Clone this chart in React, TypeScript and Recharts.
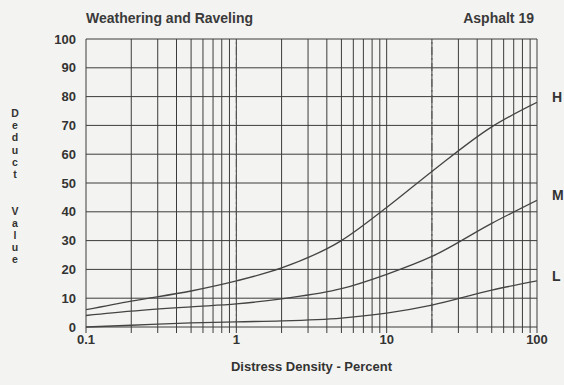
import { LineChart, Line, XAxis, YAxis, CartesianGrid, ReferenceLine } from 'recharts';

const density = [0.1, 0.2, 0.5, 1, 2, 5, 10, 20, 50, 100];
const high = [6, 9, 12.5, 16, 20.5, 30, 41.5, 54, 69.5, 78];
const medium = [4, 5.5, 7, 8, 9.8, 13.3, 18.3, 24.5, 36, 44];
const low = [0, 0.6, 1.4, 1.8, 2.1, 3.1, 4.8, 7.6, 12.8, 16];

const gridX = [
  0.1, 0.2, 0.3, 0.4, 0.5, 0.6, 0.7, 0.8, 0.9,
  1, 2, 3, 4, 5, 6, 7, 8, 9,
  10, 20, 30, 40, 50, 60, 70, 80, 90, 100,
];
const gridY = [0, 10, 20, 30, 40, 50, 60, 70, 80, 90, 100];
const decadeLabels = [0.1, 1, 10, 100];

const data = density.map((d, i) => ({ d, H: high[i], M: medium[i], L: low[i] }));

const font = '"Liberation Sans", Arial, sans-serif';
const ink = '#333';

const endLabel = (name: string) => (props: any) => {
  if (props.index !== data.length - 1) return null;
  return (
    <text x={props.x + 15} y={props.y} fontFamily={font} fontWeight="bold" fontSize={14} fill={ink}>
      {name}
    </text>
  );
};

// vertical axis title, one letter per row ('' = gap between words)
const yLetters = ['D', 'e', 'd', 'u', 'c', 't', '', '', 'V', 'a', 'l', 'u', 'e'];

export default function App() {
  return (
    <div style={{ position: 'absolute', left: 0, top: 0, width: 564, height: 385, background: '#f3f3f1', fontFamily: font }}>
      <div style={{ position: 'absolute', left: 86, top: 10, fontSize: 14, fontWeight: 'bold', color: '#3a3a3a' }}>
        Weathering and Raveling
      </div>
      <div style={{ position: 'absolute', right: 30, top: 10, fontSize: 14, fontWeight: 'bold', color: '#3a3a3a' }}>
        Asphalt 19
      </div>
      <svg width={30} height={200} style={{ position: 'absolute', left: 0, top: 100 }}>
        {yLetters.map((c, i) =>
          c ? (
            <text key={i} x={15} y={17 + i * 12.2} textAnchor="middle" fontFamily={font} fontSize={10.5} fontWeight="bold" fill={ink}>
              {c}
            </text>
          ) : null,
        )}
      </svg>
      <LineChart width={564} height={385} data={data} margin={{ top: 39, right: 27, bottom: 8, left: 46 }} style={{ position: 'absolute', left: 0, top: 0 }}>
        <CartesianGrid stroke="#3c3c3c" strokeWidth={1} verticalValues={gridX} horizontalValues={gridY} />
        <XAxis
          dataKey="d"
          type="number"
          scale="log"
          domain={[0.1, 100]}
          ticks={gridX}
          interval={0}
          height={50}
          tickFormatter={(v: number) => (decadeLabels.includes(v) ? String(v) : '')}
          tick={{ fontFamily: font, fontSize: 13, fontWeight: 'bold', fill: ink }}
          tickLine={{ stroke: '#3c3c3c' }}
          tickSize={6}
          tickMargin={2}
          axisLine={false}
          allowDataOverflow
          label={{ value: 'Distress Density - Percent', position: 'insideBottom', offset: 6, style: { fontFamily: font, fontSize: 13, fontWeight: 'bold', fill: ink } }}
        />
        <YAxis
          type="number"
          domain={[0, 100]}
          ticks={gridY}
          interval={0}
          width={40}
          tick={{ fontFamily: font, fontSize: 13, fontWeight: 'bold', fill: ink }}
          tickLine={false}
          axisLine={false}
          tickMargin={4}
        />
        <ReferenceLine x={1} stroke="#555" strokeDasharray="8 3 2 3" />
        <ReferenceLine x={20} stroke="#555" strokeDasharray="8 3 2 3" />
        <Line dataKey="H" type="monotoneX" stroke="#444" strokeWidth={1.3} dot={false} isAnimationActive={false} label={endLabel('H')} />
        <Line dataKey="M" type="monotoneX" stroke="#444" strokeWidth={1.3} dot={false} isAnimationActive={false} label={endLabel('M')} />
        <Line dataKey="L" type="monotoneX" stroke="#444" strokeWidth={1.3} dot={false} isAnimationActive={false} label={endLabel('L')} />
      </LineChart>
    </div>
  );
}
